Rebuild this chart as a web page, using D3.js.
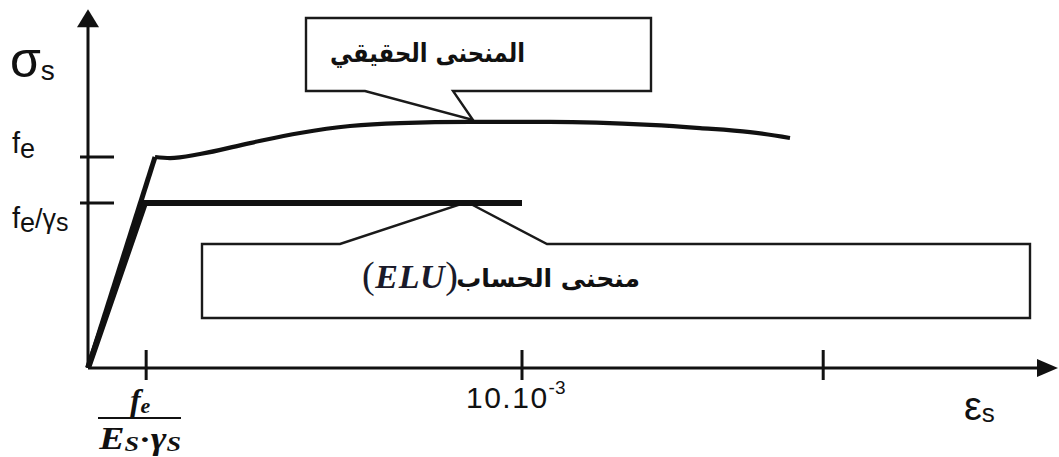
<!DOCTYPE html>
<html>
<head>
<meta charset="utf-8">
<script src="https://cdn.jsdelivr.net/npm/d3@7"></script>
<style>
  body { margin: 0; background: #fff; }
  svg { display: block; }
</style>
</head>
<body>
<div id="chart"></div>
<script>
// Steel stress-strain diagram: real curve vs design (ELU) curve
// strain in per mille (figure not to scale), stress normalised on fe

const realStrain = [1.544, 1.889, 2.581, 3.733, 4.885, 6.037, 7.189, 8.802, 10.645, 12.949, 14.101, 15.253, 16.175];
const realStress = [1.000, 0.995, 1.014, 1.066, 1.114, 1.147, 1.161, 1.166, 1.166, 1.152, 1.137, 1.118, 1.090];
const elasticStrain = [0, 1.544];
const elasticStress = [0, 1.0];
const designStrain = [0, 1.313, 10];
const designStress = [0, 0.782, 0.782];

const xTickValues = [1.34, 10, 16.94];
const yTickValues = [1.0, 0.782];
const xAxisEnd = 22.35, yAxisEnd = 1.70;

const width = 1059, height = 457;
const ink = "#111";

const x = d3.scaleLinear().domain([0, 10]).range([88, 522]);
const y = d3.scaleLinear().domain([0, 1]).range([368, 157]);

const svg = d3.select("#chart").append("svg")
  .attr("width", width).attr("height", height)
  .attr("viewBox", [0, 0, width, height]);

// ── callouts (drawn first, curves go over the pointers) ──
const callouts = [
  [[306, 18], [651, 18], [651, 91], [453, 91], [473, 120], [365, 91], [306, 91]],
  [[202, 244], [340, 244], [467, 202], [547, 244], [1030, 244], [1030, 318], [202, 318]]
];
svg.append("g")
  .selectAll("path").data(callouts).join("path")
  .attr("d", d => "M" + d.join("L") + "Z")
  .attr("fill", "#fff").attr("stroke", "#1a1a1a").attr("stroke-width", 2.4)
  .attr("stroke-linejoin", "miter");

// ── axes ──
const ax = svg.append("g").attr("stroke", ink).attr("stroke-width", 3);
ax.append("line")
  .attr("x1", x(0)).attr("y1", y(0)).attr("x2", x(xAxisEnd) - 14).attr("y2", y(0));
ax.append("line")
  .attr("x1", x(0)).attr("y1", y(0)).attr("x2", x(0)).attr("y2", y(yAxisEnd) + 14);

svg.append("path")
  .attr("d", `M${x(xAxisEnd)},${y(0)}L${x(xAxisEnd) - 21},${y(0) - 9}L${x(xAxisEnd) - 21},${y(0) + 9}Z`)
  .attr("fill", ink);
svg.append("path")
  .attr("d", `M${x(0)},${y(yAxisEnd)}L${x(0) - 11},${y(yAxisEnd) + 18}L${x(0) + 11},${y(yAxisEnd) + 18}Z`)
  .attr("fill", ink);

ax.selectAll(".xt").data(xTickValues).join("line")
  .attr("x1", d => x(d)).attr("x2", d => x(d))
  .attr("y1", y(0) - 18).attr("y2", y(0) + 12);
ax.selectAll(".yt").data(yTickValues).join("line")
  .attr("x1", x(0) - 8).attr("x2", x(0) + 26)
  .attr("y1", d => y(d)).attr("y2", d => y(d));

// ── curves ──
const line = d3.line().x(d => x(d[0])).y(d => y(d[1]));

svg.append("path")
  .attr("d", line(d3.zip(elasticStrain, elasticStress)))
  .attr("fill", "none").attr("stroke", ink).attr("stroke-width", 5);

svg.append("path")
  .attr("d", d3.line().x(d => x(d[0])).y(d => y(d[1])).curve(d3.curveMonotoneX)(d3.zip(realStrain, realStress)))
  .attr("fill", "none").attr("stroke", ink).attr("stroke-width", 4.2);

svg.append("path")
  .attr("d", line(d3.zip(designStrain, designStress)))
  .attr("fill", "none").attr("stroke", ink).attr("stroke-width", 6).attr("stroke-linejoin", "miter");

// ── labels ──
const sans = "'Liberation Sans', Arial, sans-serif";
const serif = "'Liberation Serif', 'Times New Roman', serif";

const sig = svg.append("text").attr("x", 10).attr("y", 77)
  .attr("font-family", sans).attr("fill", ink);
sig.append("tspan").attr("font-size", 50).text("σ");
sig.append("tspan").attr("font-size", 28).attr("dy", 3).text("s");

const fe = svg.append("text").attr("x", 12).attr("y", 153)
  .attr("font-family", sans).attr("fill", ink);
fe.append("tspan").attr("font-size", 29).text("f");
fe.append("tspan").attr("font-size", 27).attr("dy", 5).text("e");

const feg = svg.append("text").attr("x", 12).attr("y", 228)
  .attr("font-family", sans).attr("fill", ink);
feg.append("tspan").attr("font-size", 29).text("f");
feg.append("tspan").attr("font-size", 27).attr("dy", 4).text("e");
feg.append("tspan").attr("font-size", 27).attr("dy", -4).text("/");
feg.append("tspan").attr("font-size", 27).text("γ");
feg.append("tspan").attr("font-size", 25).attr("dy", 3).text("s");

// fraction under the first tick
const fx = x(xTickValues[0]) - 6;
const num = svg.append("text").attr("x", fx).attr("y", 411).attr("text-anchor", "middle")
  .attr("font-family", serif).attr("font-weight", "bold").attr("font-style", "italic").attr("fill", ink);
num.append("tspan").attr("font-size", 32).text("f");
num.append("tspan").attr("font-size", 22).attr("dy", 2).text("e");
svg.append("line").attr("x1", 98).attr("x2", 181).attr("y1", 418).attr("y2", 418)
  .attr("stroke", ink).attr("stroke-width", 2);
const den = svg.append("text").attr("x", fx).attr("y", 449).attr("text-anchor", "middle")
  .attr("font-family", serif).attr("font-weight", "bold").attr("font-style", "italic").attr("fill", ink)
  .attr("textLength", 82).attr("lengthAdjust", "spacingAndGlyphs");
den.append("tspan").attr("font-size", 32).text("E");
den.append("tspan").attr("font-size", 22).attr("dy", 2).text("S");
den.append("tspan").attr("font-size", 30).attr("dy", -2).attr("font-style", "normal").text("·");
den.append("tspan").attr("font-size", 32).text("γ");
den.append("tspan").attr("font-size", 22).attr("dy", 2).text("S");

const ten = svg.append("text").attr("x", x(10) - 56).attr("y", 408)
  .attr("font-family", sans).attr("fill", ink);
ten.append("tspan").attr("font-size", 30).attr("letter-spacing", 1.5).text("10.10");
ten.append("tspan").attr("font-size", 19).attr("dy", -14).text("-3");

const eps = svg.append("text").attr("x", 964).attr("y", 420)
  .attr("font-family", sans).attr("fill", ink);
eps.append("tspan").attr("font-size", 40).text("ε");
eps.append("tspan").attr("font-size", 26).attr("dy", 2).text("s");

// callout texts
svg.append("text").attr("x", 330).attr("y", 62)
  .attr("font-family", "'DejaVu Sans', sans-serif").attr("font-weight", "bold")
  .attr("font-size", 26).attr("fill", ink)
  .attr("textLength", 195).attr("lengthAdjust", "spacingAndGlyphs")
  .text("المنحنى الحقيقي");

svg.append("text").attr("x", 640).attr("y", 287).attr("text-anchor", "end")
  .attr("font-family", "'DejaVu Sans', sans-serif").attr("font-weight", "bold")
  .attr("font-size", 25).attr("fill", ink)
  .text("منحنى الحساب");

const elu = svg.append("text").attr("x", 362).attr("y", 288)
  .attr("direction", "ltr").attr("font-family", serif).attr("fill", "#1a1a2a")
  .attr("textLength", 96).attr("lengthAdjust", "spacing");
elu.append("tspan").attr("font-size", 38).text("(");
elu.append("tspan").attr("font-size", 34).attr("font-weight", "bold").attr("font-style", "italic").text("ELU");
elu.append("tspan").attr("font-size", 38).text(")");
</script>
</body>
</html>
